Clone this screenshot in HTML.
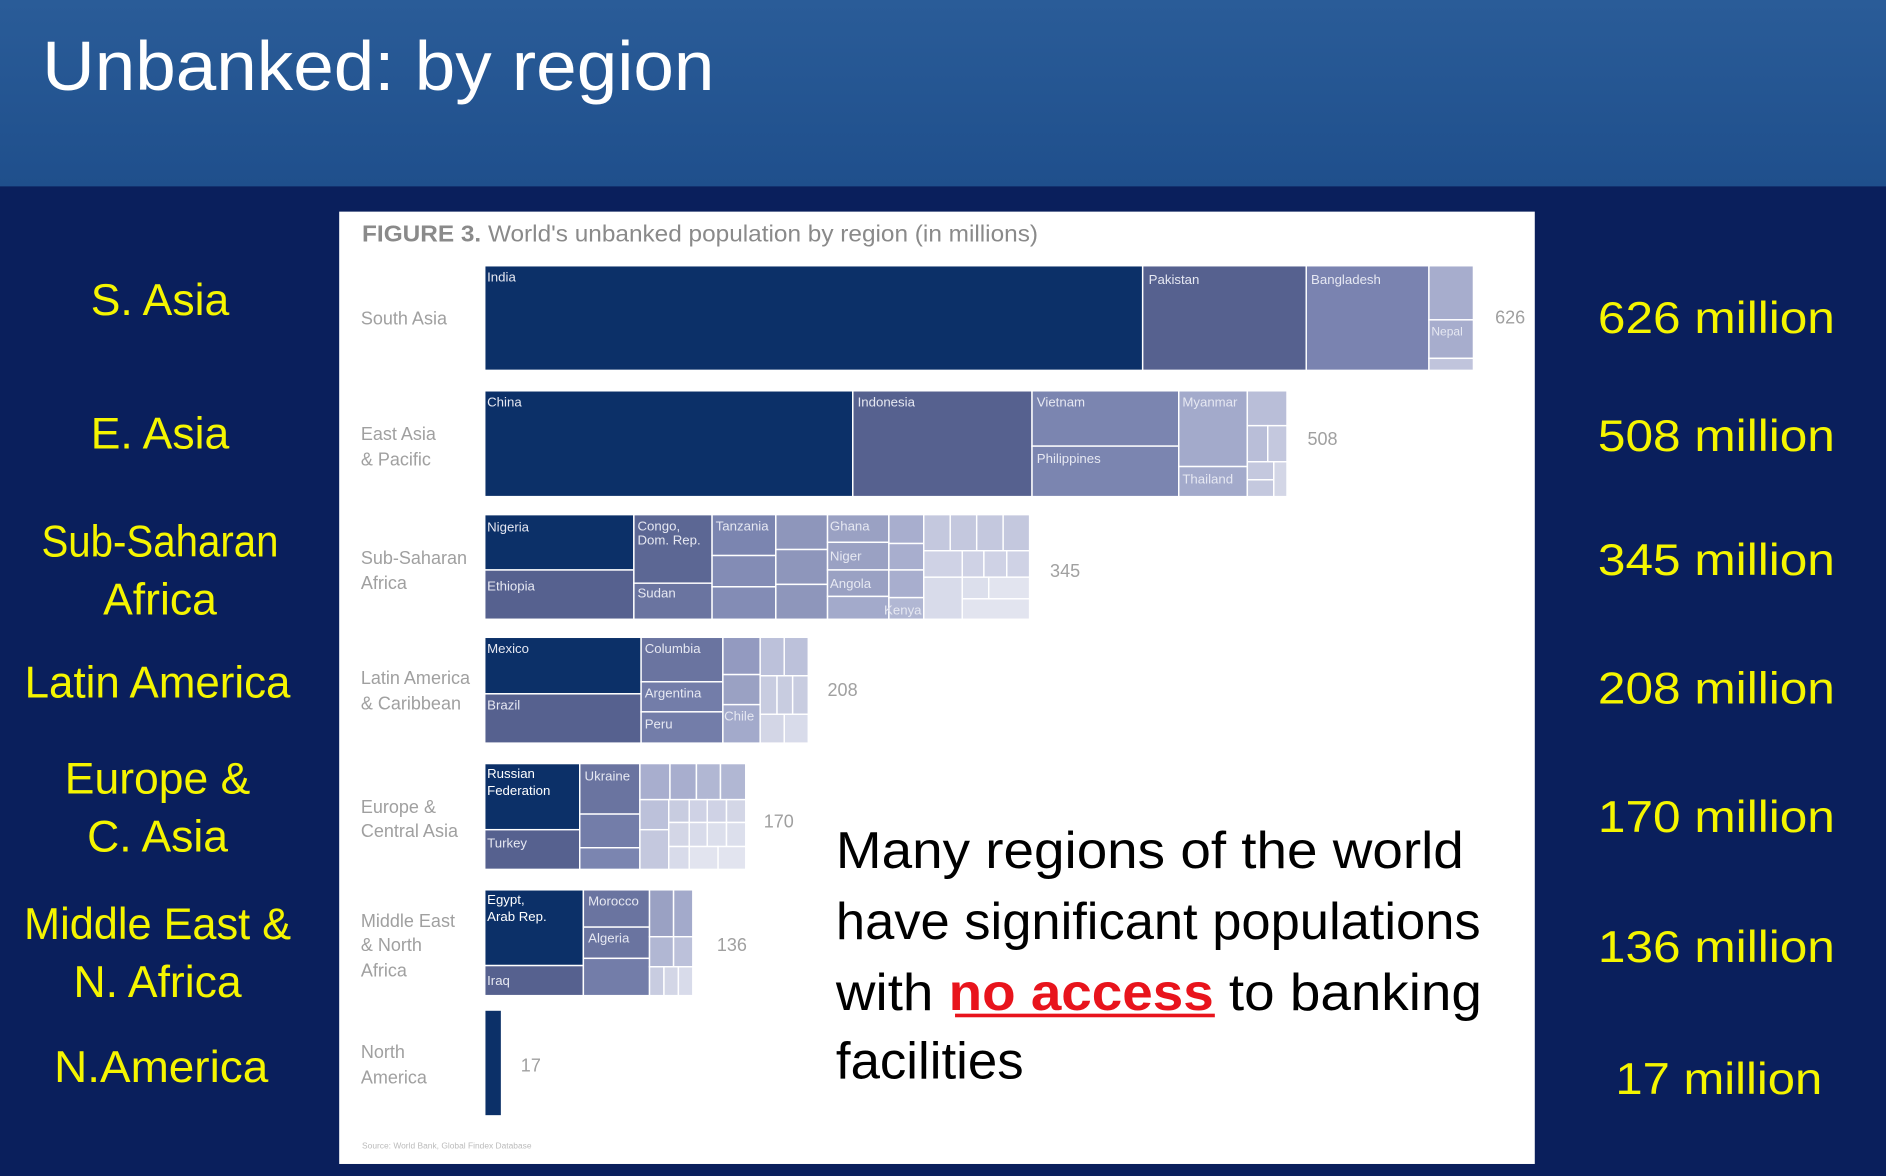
<!DOCTYPE html>
<html><head><meta charset="utf-8"><style>
html,body{margin:0;padding:0;background:#0a1f5c;}
svg{display:block;}
</style></head><body>
<svg width="1886" height="1176" viewBox="0 0 1568 978" preserveAspectRatio="none" xmlns="http://www.w3.org/2000/svg" font-family="Liberation Sans, sans-serif">
<defs><linearGradient id="hg" x1="0" y1="0" x2="0" y2="1"><stop offset="0" stop-color="#2a5c98"/><stop offset="1" stop-color="#1f4f8c"/></linearGradient></defs>
<rect width="1568" height="978" fill="#0a1f5c"/>
<rect width="1568" height="155" fill="url(#hg)"/>
<text x="35" y="75" fill="#fff" font-size="58" textLength="559" lengthAdjust="spacingAndGlyphs">Unbanked: by region</text>
<rect x="282" y="176" width="994" height="792" fill="#fff"/>
<g fill="#f5f500" font-size="37" text-anchor="middle">
<text x="133" y="262">S. Asia</text>
<text x="133" y="373">E. Asia</text>
<text x="133" y="463" textLength="197" lengthAdjust="spacingAndGlyphs">Sub-Saharan</text>
<text x="133" y="511">Africa</text>
<text x="131" y="580" textLength="221" lengthAdjust="spacingAndGlyphs">Latin America</text>
<text x="131" y="660">Europe &amp;</text>
<text x="131" y="708">C. Asia</text>
<text x="131" y="781" textLength="222" lengthAdjust="spacingAndGlyphs">Middle East &amp;</text>
<text x="131" y="829">N. Africa</text>
<text x="134" y="900" textLength="178" lengthAdjust="spacingAndGlyphs">N.America</text>
<text x="1427" y="277" textLength="197" lengthAdjust="spacingAndGlyphs">626 million</text>
<text x="1427" y="375" textLength="197" lengthAdjust="spacingAndGlyphs">508 million</text>
<text x="1427" y="478" textLength="197" lengthAdjust="spacingAndGlyphs">345 million</text>
<text x="1427" y="585" textLength="197" lengthAdjust="spacingAndGlyphs">208 million</text>
<text x="1427" y="692" textLength="197" lengthAdjust="spacingAndGlyphs">170 million</text>
<text x="1427" y="800" textLength="197" lengthAdjust="spacingAndGlyphs">136 million</text>
<text x="1429" y="910" textLength="172" lengthAdjust="spacingAndGlyphs">17 million</text>
</g>
<text x="301" y="201" font-size="19" fill="#8a8a8a" textLength="562" lengthAdjust="spacingAndGlyphs"><tspan font-weight="bold">FIGURE 3.</tspan> World's unbanked population by region (in millions)</text>
<g fill="#a0a0a0" font-size="15">
<text x="300" y="270">South Asia</text>
<text x="300" y="366">East Asia</text><text x="300" y="387">&amp; Pacific</text>
<text x="300" y="469">Sub-Saharan</text><text x="300" y="490">Africa</text>
<text x="300" y="569">Latin America</text><text x="300" y="590">&amp; Caribbean</text>
<text x="300" y="676">Europe &amp;</text><text x="300" y="696">Central Asia</text>
<text x="300" y="771">Middle East</text><text x="300" y="791">&amp; North</text><text x="300" y="812">Africa</text>
<text x="300" y="880">North</text><text x="300" y="901">America</text>
<text x="1243" y="269">626</text><text x="1087" y="370">508</text><text x="873" y="480">345</text>
<text x="688" y="579">208</text><text x="635" y="688">170</text><text x="596" y="791">136</text><text x="433" y="891">17</text>
</g>
<text x="301" y="955" font-size="7" fill="#bbb">Source: World Bank, Global Findex Database</text>
<g stroke="#fff" stroke-width="1.2">
<rect x="403" y="221" width="547" height="87" fill="#0c3068"/>
<rect x="950" y="221" width="136" height="87" fill="#56618f"/>
<rect x="1086" y="221" width="102" height="87" fill="#7a83b0"/>
<rect x="1188" y="221" width="37" height="45" fill="#a7adcd"/>
<rect x="1188" y="266" width="37" height="32" fill="#a7adcd"/>
<rect x="1188" y="298" width="37" height="10" fill="#c0c4dc"/>
<rect x="403" y="325" width="306" height="88" fill="#0c3068"/>
<rect x="709" y="325" width="149" height="88" fill="#56618f"/>
<rect x="858" y="325" width="122" height="46" fill="#7b85b0"/>
<rect x="858" y="371" width="122" height="42" fill="#7b85b0"/>
<rect x="980" y="325" width="57" height="63" fill="#a3aacb"/>
<rect x="980" y="388" width="57" height="25" fill="#a3aacb"/>
<rect x="1037" y="325" width="33" height="29" fill="#b9bed8"/>
<rect x="1037" y="354" width="17" height="30" fill="#b9bed8"/>
<rect x="1054" y="354" width="16" height="30" fill="#c4c8de"/>
<rect x="1037" y="384" width="22" height="15" fill="#c4c8de"/>
<rect x="1037" y="399" width="22" height="14" fill="#c4c8de"/>
<rect x="1059" y="384" width="11" height="29" fill="#d3d6e6"/>
<rect x="403" y="428" width="124" height="46" fill="#0c3068"/>
<rect x="403" y="474" width="124" height="41" fill="#56618f"/>
<rect x="527" y="428" width="65" height="57" fill="#5c6794"/>
<rect x="527" y="485" width="65" height="30" fill="#6a74a0"/>
<rect x="592" y="428" width="53" height="34" fill="#7b85b0"/>
<rect x="592" y="462" width="53" height="26" fill="#838cb5"/>
<rect x="592" y="488" width="53" height="27" fill="#838cb5"/>
<rect x="645" y="428" width="43" height="29" fill="#8e96bb"/>
<rect x="645" y="457" width="43" height="29" fill="#8e96bb"/>
<rect x="645" y="486" width="43" height="29" fill="#8e96bb"/>
<rect x="688" y="428" width="51" height="23" fill="#9aa1c3"/>
<rect x="688" y="451" width="51" height="23" fill="#9aa1c3"/>
<rect x="688" y="474" width="51" height="22" fill="#9aa1c3"/>
<rect x="688" y="496" width="51" height="19" fill="#a3aacb"/>
<rect x="739" y="428" width="29" height="24" fill="#a8aece"/>
<rect x="739" y="452" width="29" height="22" fill="#a8aece"/>
<rect x="739" y="474" width="29" height="23" fill="#a8aece"/>
<rect x="739" y="497" width="29" height="18" fill="#b1b7d3"/>
<rect x="768" y="428" width="22" height="30" fill="#c4c8de"/>
<rect x="790" y="428" width="22" height="30" fill="#c4c8de"/>
<rect x="812" y="428" width="22" height="30" fill="#c4c8de"/>
<rect x="834" y="428" width="22" height="30" fill="#c4c8de"/>
<rect x="768" y="458" width="32" height="22" fill="#cfd2e5"/>
<rect x="800" y="458" width="18" height="22" fill="#cfd2e5"/>
<rect x="818" y="458" width="19" height="22" fill="#cfd2e5"/>
<rect x="837" y="458" width="19" height="22" fill="#cfd2e5"/>
<rect x="768" y="480" width="32" height="35" fill="#d8dbea"/>
<rect x="800" y="480" width="22" height="18" fill="#dcdfec"/>
<rect x="822" y="480" width="34" height="18" fill="#e2e4ef"/>
<rect x="800" y="498" width="56" height="17" fill="#e2e4ef"/>
<rect x="403" y="530" width="130" height="47" fill="#0c3068"/>
<rect x="403" y="577" width="130" height="41" fill="#56618f"/>
<rect x="533" y="530" width="68" height="37" fill="#6a74a0"/>
<rect x="533" y="567" width="68" height="25" fill="#737da9"/>
<rect x="533" y="592" width="68" height="26" fill="#737da9"/>
<rect x="601" y="530" width="31" height="31" fill="#939ac0"/>
<rect x="601" y="561" width="31" height="25" fill="#9aa1c3"/>
<rect x="601" y="586" width="31" height="32" fill="#a3aacb"/>
<rect x="632" y="530" width="20" height="32" fill="#bcc1da"/>
<rect x="652" y="530" width="20" height="32" fill="#bcc1da"/>
<rect x="632" y="562" width="14" height="32" fill="#c8cce0"/>
<rect x="646" y="562" width="13" height="32" fill="#c8cce0"/>
<rect x="659" y="562" width="13" height="32" fill="#c8cce0"/>
<rect x="632" y="594" width="20" height="24" fill="#d3d6e6"/>
<rect x="652" y="594" width="20" height="24" fill="#d8dbea"/>
<rect x="403" y="635" width="79" height="55" fill="#0c3068"/>
<rect x="403" y="690" width="79" height="33" fill="#56618f"/>
<rect x="482" y="635" width="50" height="42" fill="#6a74a0"/>
<rect x="482" y="677" width="50" height="28" fill="#737da9"/>
<rect x="482" y="705" width="50" height="18" fill="#7b85b0"/>
<rect x="532" y="635" width="25" height="30" fill="#a8aece"/>
<rect x="557" y="635" width="22" height="30" fill="#a8aece"/>
<rect x="579" y="635" width="20" height="30" fill="#b1b7d3"/>
<rect x="599" y="635" width="21" height="30" fill="#b1b7d3"/>
<rect x="532" y="665" width="24" height="25" fill="#bcc1da"/>
<rect x="532" y="690" width="24" height="33" fill="#c4c8de"/>
<rect x="556" y="665" width="17" height="19" fill="#c8cce0"/>
<rect x="573" y="665" width="15" height="19" fill="#cfd2e5"/>
<rect x="588" y="665" width="16" height="19" fill="#cfd2e5"/>
<rect x="604" y="665" width="16" height="19" fill="#d3d6e6"/>
<rect x="556" y="684" width="17" height="20" fill="#d3d6e6"/>
<rect x="556" y="704" width="17" height="19" fill="#d8dbea"/>
<rect x="573" y="684" width="15" height="20" fill="#d8dbea"/>
<rect x="588" y="684" width="16" height="20" fill="#dcdfec"/>
<rect x="604" y="684" width="16" height="20" fill="#dcdfec"/>
<rect x="573" y="704" width="24" height="19" fill="#e2e4ef"/>
<rect x="597" y="704" width="23" height="19" fill="#e2e4ef"/>
<rect x="403" y="740" width="82" height="63" fill="#0c3068"/>
<rect x="403" y="803" width="82" height="25" fill="#56618f"/>
<rect x="485" y="740" width="55" height="31" fill="#6a74a0"/>
<rect x="485" y="771" width="55" height="26" fill="#6a74a0"/>
<rect x="485" y="797" width="55" height="31" fill="#737da9"/>
<rect x="540" y="740" width="20" height="39" fill="#9aa1c3"/>
<rect x="560" y="740" width="16" height="39" fill="#a3aacb"/>
<rect x="540" y="779" width="20" height="25" fill="#b1b7d3"/>
<rect x="560" y="779" width="16" height="25" fill="#bcc1da"/>
<rect x="540" y="804" width="12" height="24" fill="#c8cce0"/>
<rect x="552" y="804" width="12" height="24" fill="#d3d6e6"/>
<rect x="564" y="804" width="12" height="24" fill="#d8dbea"/>
<rect x="403" y="840" width="14" height="88" fill="#0c3068"/>
</g>
<g fill="#e6e8f2" font-size="11">
<text x="405" y="234">India</text><text x="955" y="236">Pakistan</text><text x="1090" y="236">Bangladesh</text><text x="1190" y="279" font-size="10">Nepal</text>
<text x="405" y="338">China</text><text x="713" y="338">Indonesia</text><text x="862" y="338">Vietnam</text><text x="983" y="338">Myanmar</text>
<text x="862" y="385">Philippines</text><text x="983" y="402">Thailand</text>
<text x="405" y="442">Nigeria</text><text x="405" y="491">Ethiopia</text><text x="530" y="441">Congo,</text><text x="530" y="453">Dom. Rep.</text>
<text x="530" y="497">Sudan</text><text x="595" y="441">Tanzania</text><text x="690" y="441">Ghana</text><text x="690" y="466">Niger</text><text x="690" y="489">Angola</text><text x="735" y="511">Kenya</text>
<text x="405" y="543">Mexico</text><text x="405" y="590">Brazil</text><text x="536" y="543">Columbia</text><text x="536" y="580">Argentina</text><text x="536" y="606">Peru</text><text x="602" y="599">Chile</text>
<text x="405" y="647" fill="#fff">Russian</text><text x="405" y="661" fill="#fff">Federation</text><text x="405" y="705">Turkey</text><text x="486" y="649">Ukraine</text>
<text x="405" y="752" fill="#fff">Egypt,</text><text x="405" y="766" fill="#fff">Arab Rep.</text><text x="405" y="819">Iraq</text><text x="489" y="753">Morocco</text><text x="489" y="784">Algeria</text>
</g>
<g font-size="43" fill="#000">
<text x="695" y="722" textLength="522" lengthAdjust="spacingAndGlyphs">Many regions of the world</text>
<text x="695" y="781" textLength="536" lengthAdjust="spacingAndGlyphs">have significant populations</text>
<text x="695" y="840" textLength="537" lengthAdjust="spacingAndGlyphs">with <tspan fill="#e8141c" font-weight="bold">no access</tspan> to banking</text>
<text x="695" y="897" textLength="156" lengthAdjust="spacingAndGlyphs">facilities</text>
</g>
<rect x="794" y="843" width="216" height="3" fill="#e8141c"/>
</svg>
</body></html>
